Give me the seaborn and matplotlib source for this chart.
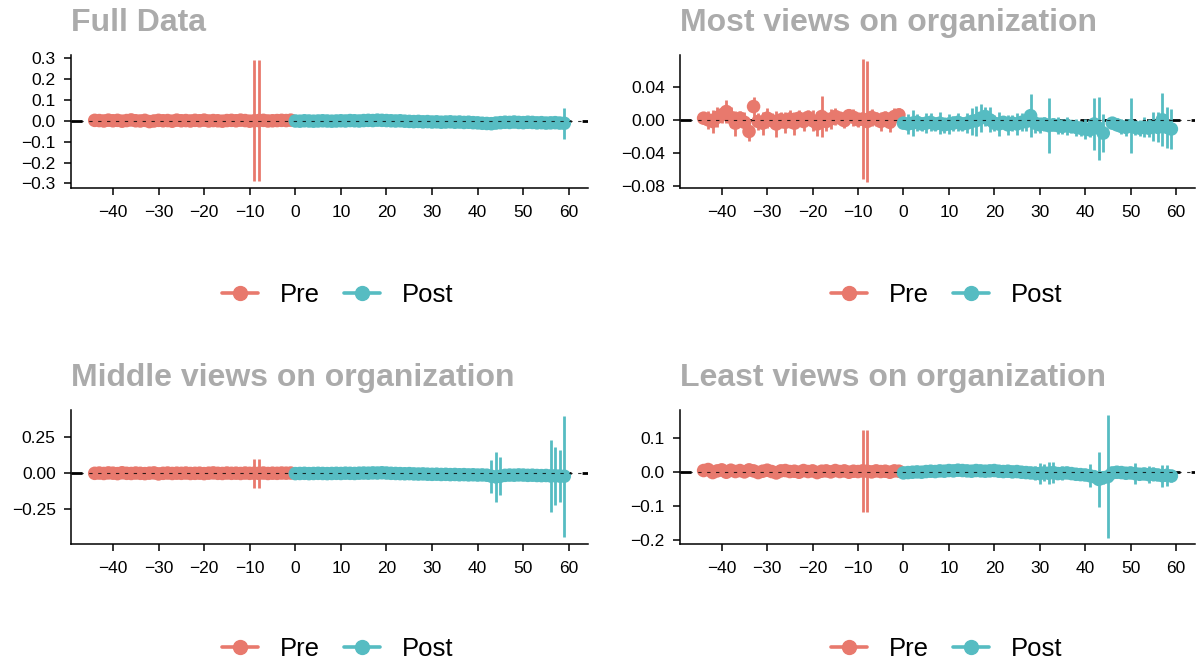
import numpy as np
import pandas as pd
import seaborn as sns
import matplotlib.pyplot as plt
from matplotlib.lines import Line2D

# ---- data ----
pre_x = list(range(-44, 0))
post_x = list(range(0, 60))

# Full data
full_pre = [0.002, 0.001, -0.001, 0.003, 0.000, 0.002, -0.002, 0.001, 0.004, 0.000,
            -0.001, 0.002, -0.004, -0.001, 0.002, 0.000, 0.001, -0.002, 0.003, 0.000,
            0.001, -0.001, 0.002, 0.000, 0.003, -0.001, 0.001, 0.000, -0.002, 0.001,
            0.002, 0.000, 0.003, 0.001, -0.002, 0.000, 0.001, 0.002, -0.001, 0.000,
            0.001, 0.002, 0.001, 0.003]
full_pre_ci = [0.004] * 35 + [0.29, 0.29] + [0.004] * 7
full_post = [-0.001, -0.002, 0.000, -0.001, -0.002, -0.001, 0.000, -0.001, -0.002, -0.001,
             0.000, -0.001, 0.001, 0.000, -0.001, 0.001, 0.002, 0.001, 0.003, 0.002,
             0.001, 0.000, -0.001, 0.000, -0.002, -0.003, -0.004, -0.003, -0.005, -0.004,
             -0.006, -0.005, -0.007, -0.006, -0.005, -0.007, -0.006, -0.008, -0.007, -0.009,
             -0.010, -0.012, -0.013, -0.014, -0.011, -0.009, -0.007, -0.008, -0.006, -0.008,
             -0.009, -0.007, -0.008, -0.010, -0.009, -0.011, -0.010, -0.009, -0.011, -0.012]
full_post_ci = [0.004] * 40 + [0.006] * 19 + [0.075]

# Most views on organization
most_pre = [0.002, 0.000, -0.002, 0.003, 0.006, 0.010, 0.003, -0.004, 0.002, -0.003,
            -0.014, 0.016, -0.002, -0.004, 0.002, -0.001, -0.005, 0.000, -0.003, 0.001,
            -0.004, 0.002, -0.002, 0.003, -0.001, -0.005, 0.004, -0.002, 0.001, 0.004,
            0.002, -0.001, 0.005, 0.003, 0.000, 0.001, -0.002, 0.003, 0.001, -0.002,
            0.002, -0.003, 0.004, 0.006]
most_pre_ci = [0.006, 0.011, 0.014, 0.012, 0.010, 0.014, 0.012, 0.015, 0.009, 0.012,
               0.011, 0.012, 0.010, 0.014, 0.012, 0.009, 0.016, 0.010, 0.013, 0.011,
               0.014, 0.010, 0.012, 0.009, 0.013, 0.015, 0.025, 0.011, 0.012, 0.010,
               0.008, 0.009, 0.008, 0.010, 0.009, 0.072, 0.073, 0.010, 0.008, 0.011,
               0.009, 0.012, 0.010, 0.008]
most_post = [-0.004, -0.005, -0.004, -0.003, -0.005, -0.004, -0.003, -0.005, -0.004, -0.006,
             -0.005, -0.004, -0.003, -0.005, -0.004, -0.002, -0.001, 0.002, 0.004, 0.000,
             -0.004, -0.005, -0.003, -0.006, -0.004, -0.005, -0.003, -0.002, 0.005, -0.004,
             -0.006, -0.005, -0.007, -0.006, -0.007, -0.008, -0.007, -0.008, -0.009, -0.010,
             -0.011, -0.012, -0.005, -0.010, -0.016, np.nan, -0.004, -0.006, -0.008, -0.009,
             -0.007, -0.009, -0.010, -0.009, -0.010, -0.008, -0.009, 0.000, -0.009, -0.011]
most_post_ci = [0.006, 0.012, 0.016, 0.010, 0.008, 0.012, 0.011, 0.009, 0.013, 0.010,
                0.012, 0.009, 0.011, 0.008, 0.012, 0.016, 0.018, 0.017, 0.012, 0.015,
                0.010, 0.014, 0.008, 0.012, 0.010, 0.013, 0.011, 0.012, 0.026, 0.012,
                0.010, 0.009, 0.033, 0.008, 0.010, 0.009, 0.011, 0.008, 0.010, 0.009,
                0.012, 0.009, 0.031, 0.038, 0.023, np.nan, 0.006, 0.008, 0.009, 0.010,
                0.033, 0.009, 0.010, 0.012, 0.011, 0.018, 0.018, 0.032, 0.025, 0.024]

# Middle views on organization
mid_pre = [0.000, 0.002, -0.001, 0.003, 0.001, -0.002, 0.004, 0.000, -0.001, 0.002,
           0.000, -0.002, 0.001, 0.003, -0.004, 0.000, 0.002, -0.001, 0.001, 0.000,
           0.002, -0.001, 0.000, 0.001, -0.002, 0.001, 0.003, 0.000, -0.001, 0.002,
           0.000, 0.001, -0.001, 0.002, 0.000, 0.001, 0.000, 0.002, -0.001, 0.001,
           0.000, 0.002, 0.001, 0.002]
mid_pre_ci = [0.004] * 35 + [0.10, 0.10] + [0.005] * 7
mid_post = [-0.002, -0.001, 0.000, -0.002, -0.001, 0.000, -0.001, -0.002, -0.001, 0.000,
            -0.001, 0.001, 0.000, -0.001, 0.001, 0.002, 0.001, 0.003, 0.002, 0.004,
            0.002, 0.000, -0.001, -0.002, -0.003, -0.002, -0.004, -0.005, -0.004, -0.006,
            -0.007, -0.006, -0.008, -0.007, -0.009, -0.008, -0.010, -0.009, -0.011, -0.010,
            -0.012, -0.011, -0.013, -0.020, -0.025, -0.020, -0.014, -0.012, -0.013, -0.011,
            -0.012, -0.014, -0.013, -0.015, -0.016, -0.015, -0.018, -0.017, -0.019, -0.020]
mid_post_ci = ([0.005] * 40 + [0.008, 0.010, 0.012, 0.115, 0.175, 0.13]
               + [0.008] * 10 + [0.25, 0.20, 0.18, 0.42])

# Least views on organization
least_pre = [0.003, 0.006, -0.003, 0.002, 0.005, -0.002, 0.004, 0.000, 0.003, -0.001,
             0.005, 0.002, -0.003, 0.001, 0.004, 0.000, -0.004, 0.002, 0.003, 0.000,
             0.001, -0.002, 0.003, 0.000, 0.002, -0.003, 0.001, 0.002, -0.001, 0.003,
             0.000, 0.002, -0.002, 0.001, 0.000, 0.002, 0.001, -0.001, 0.002, 0.000,
             0.001, -0.002, 0.002, 0.001]
least_pre_ci = [0.005] * 35 + [0.12, 0.12] + [0.005] * 7
least_post = [-0.004, -0.003, -0.002, -0.001, -0.002, 0.000, 0.001, 0.000, 0.002, 0.001,
              0.003, 0.002, 0.004, 0.003, 0.002, 0.001, 0.003, 0.002, 0.001, 0.002,
              0.003, 0.001, 0.000, 0.001, -0.001, 0.000, -0.002, -0.003, -0.004, -0.005,
              -0.006, -0.004, -0.005, -0.003, -0.006, -0.005, -0.004, -0.006, -0.008, -0.009,
              -0.010, -0.012, -0.015, -0.023, -0.018, -0.015, -0.004, -0.002, -0.003, -0.005,
              -0.004, -0.006, -0.008, -0.007, -0.009, -0.008, -0.010, -0.012, -0.011, -0.013]
least_post_ci = ([0.004] * 28 + [0.012, 0.020, 0.030, 0.025, 0.032, 0.030, 0.015,
                                 0.020, 0.012, 0.010, 0.012, 0.010, 0.012, 0.034, 0.015,
                                 0.080, 0.020, 0.180, 0.010, 0.008, 0.012, 0.015, 0.010,
                                 0.030, 0.012, 0.015, 0.025, 0.020, 0.015, 0.032, 0.030,
                                 0.018])

panels = [
    ("Full Data", full_pre, full_pre_ci, full_post, full_post_ci,
     (-0.322, 0.315), [-0.3, -0.2, -0.1, 0.0, 0.1, 0.2, 0.3], "{:.1f}"),
    ("Most views on organization", most_pre, most_pre_ci, most_post, most_post_ci,
     (-0.082, 0.078), [-0.08, -0.04, 0.0, 0.04], "{:.2f}"),
    ("Middle views on organization", mid_pre, mid_pre_ci, mid_post, mid_post_ci,
     (-0.491, 0.44), [-0.25, 0.0, 0.25], "{:.2f}"),
    ("Least views on organization", least_pre, least_pre_ci, least_post, least_post_ci,
     (-0.213, 0.181), [-0.2, -0.1, 0.0, 0.1], "{:.1f}"),
]

RED = "#E8796D"
TEAL = "#56BCC2"
palette = {"Pre": RED, "Post": TEAL}


def fmt_tick(fmt, v):
    txt = fmt.format(abs(v))
    return "\u2212" + txt if v < 0 else txt


sns.set_theme(style="white")
plt.rcParams["font.family"] = ["Liberation Sans", "DejaVu Sans"]

W, H = 1199, 662
fig = plt.figure(figsize=(W / 100, H / 100), dpi=100)

# panel rectangles in pixels: left, top, right, bottom
rects = [(71, 55, 588, 188), (680, 55, 1195, 188),
         (71, 410, 588, 544), (680, 410, 1195, 544)]
legend_pos = [(338, 295), (947, 295), (338, 649), (947, 649)]

for (title, pre, pre_ci, post, post_ci, ylim, yticks, fmt), rect, lpos in zip(panels, rects, legend_pos):
    l, t, r, b = rect
    ax = fig.add_axes([l / W, 1 - b / H, (r - l) / W, (b - t) / H])

    df = pd.DataFrame({
        "time": pre_x + post_x,
        "est": pre + post,
        "ci": pre_ci + post_ci,
        "period": ["Pre"] * len(pre_x) + ["Post"] * len(post_x),
    }).dropna()

    ax.axhline(0, color="black", lw=2.0, ls=(0, (4, 4)), zorder=1)
    for period, grp in df.groupby("period"):
        ax.vlines(grp["time"], grp["est"] - grp["ci"], grp["est"] + grp["ci"],
                  color=palette[period], lw=2.0, zorder=2)
    sns.scatterplot(data=df, x="time", y="est", hue="period", palette=palette,
                    s=95, edgecolor="none", legend=False, ax=ax, zorder=3)
    ax.axhline(0, color="black", lw=0.8, ls=(0, (3, 5)), zorder=4, alpha=0.8)

    ax.set_xlim(-49.2, 64.2)
    ax.set_ylim(*ylim)
    xt = list(range(-40, 61, 10))
    ax.set_xticks(xt)
    ax.set_xticklabels([fmt_tick("{:d}", v) for v in xt])
    ax.set_yticks(yticks)
    ax.set_yticklabels([fmt_tick(fmt, v) for v in yticks])
    ax.set_xlabel("")
    ax.set_ylabel("")
    sns.despine(ax=ax)
    for s in ["left", "bottom"]:
        ax.spines[s].set_color("black")
        ax.spines[s].set_linewidth(1.1)
    ax.tick_params(axis="both", direction="out", length=5, width=1.1,
                   color="black", labelsize=12.5, labelcolor="black",
                   left=True, bottom=True)
    ax.tick_params(axis="x", pad=7)
    ax.tick_params(axis="y", pad=6)

    fig.text(l / W, 1 - (t - 24) / H, title, fontsize=23, fontweight="bold",
             color="#ABABAB", ha="left", va="baseline")

    handles = [Line2D([0], [0], color=RED, lw=2.6, marker="o", ms=10),
               Line2D([0], [0], color=TEAL, lw=2.6, marker="o", ms=10)]
    leg = fig.legend(handles, ["Pre", "Post"], loc="center",
                     bbox_to_anchor=(lpos[0] / W, 1 - lpos[1] / H), ncol=2,
                     frameon=False, fontsize=18.5, handlelength=1.4,
                     handletextpad=0.85, columnspacing=0.95)
    for txt in leg.get_texts():
        txt.set_color("black")

fig.savefig("out.png", dpi=100)
